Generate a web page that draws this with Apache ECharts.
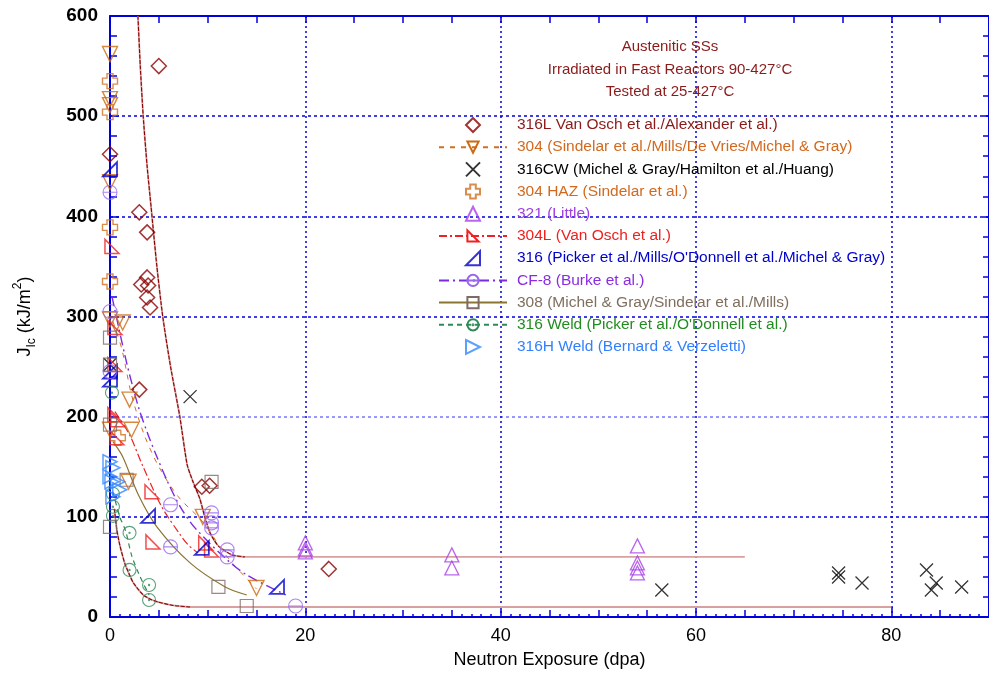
<!DOCTYPE html>
<html><head><meta charset="utf-8">
<script src="https://cdn.jsdelivr.net/npm/echarts@6/dist/echarts.min.js"></script>
<style>html,body{margin:0;padding:0;background:#fff}#c{width:989px;height:678px}</style>
</head><body><div id="c"></div>
<script>
// ---------- text ----------
const titleLines = ['Austenitic SSs', 'Irradiated in Fast Reactors 90-427°C', 'Tested at 25-427°C'];
const xTickLabels = [0, 20, 40, 60, 80];
const yTickLabels = [0, 100, 200, 300, 400, 500, 600];
const names = [
  '316L Van Osch et al./Alexander et al.)',
  '304 (Sindelar et al./Mills/De Vries/Michel & Gray)',
  '316CW (Michel & Gray/Hamilton et al./Huang)',
  '304 HAZ (Sindelar et al.)',
  '321 (Little)',
  '304L (Van Osch et al.)',
  "316 (Picker et al./Mills/O'Donnell et al./Michel & Gray)",
  'CF-8 (Burke et al.)',
  '308 (Michel & Gray/Sindelar et al./Mills)',
  "316 Weld (Picker et al./O'Donnell et al.)",
  '316H Weld (Bernard & Verzeletti)'
];
// ---------- data: [dpa, JIc] ----------
const d316L = [[5.0,550],[0,462],[3.0,404],[3.8,384],[3.2,332],[3.8,339],[3.9,331],[3.8,319],[4.1,309],[3.0,227],[9.4,130],[10.2,131],[22.4,48]];
const d304 = [[0,562],[0,517],[0,511],[0,434],[0,297],[0.6,292],[1.3,294],[0,187],[2.0,217],[2.2,187],[1.9,135],[9.5,100],[15.0,29]];
const d316CW = [[0,252],[8.2,220],[56.5,27],[74.6,44],[74.6,40],[77.0,34],[83.6,47],[84.6,34],[84.1,27],[87.2,30]];
const d304HAZ = [[0,535],[0,504],[0,389],[0,335],[0.8,179]];
const d321 = [[20,74],[20,68],[20,65],[35,62],[35,49],[54,71],[54,54],[54,49],[54,44]];
const d304L = [[0.2,370],[0.5,289],[0.5,252],[0.5,202],[0.8,197],[0.7,179],[4.3,125],[4.4,75],[9.8,74],[10.4,67]];
const d316 = [[0,447],[0,245],[0,237],[3.9,101],[9.4,69],[17.1,30]];
const dCF8 = [[0,424],[0,305],[0,245],[6.2,112],[6.2,70],[10.4,104],[10.4,94],[10.4,89],[12,67],[12,60],[19.0,11]];
const d308 = [[0,279],[0,252],[0,192],[0,90],[1.7,137],[10.4,135],[11.1,30],[14.0,11]];
const d316W = [[0.2,224],[0.3,123],[0.3,110],[0.3,101],[2.0,84],[2.0,47],[4.0,32],[4.0,17]];
const d316HW = [[0,155],[0.3,149],[0,140],[0.8,135],[0.2,135],[1.0,127],[0.3,120]];
// ---------- trend curves ----------
const fitUpper = [[2.86,600],[3.1,550],[3.4,500],[3.8,450],[4.2,410],[4.8,350],[5.4,300],[6.2,250],[7.15,200],[7.9,152],[8.5,135],[9.2,118],[9.7,100],[10.2,85],[10.7,76],[11.2,70],[12.5,62],[13.8,60],[65,60]];
const fitLower = [[0.45,108],[0.7,87],[1.0,72],[1.5,54],[2.0,42],[2.4,34],[3.4,22],[4.2,17.5],[4.9,15],[6.5,11.5],[8.2,10],[80,10]];
const fit304 = [[0.3,295],[1.2,268],[2.2,222],[3.5,182],[5,150],[7,120],[9.5,95],[12,60],[15,28]];
const fit304L = [[0.5,205],[2.0,182],[3.3,152],[5.3,110],[7.2,82],[8.0,72],[9.0,64]];
const fitCF8 = [[0.2,320],[1.7,254],[2.9,210],[3.9,182],[4.8,160],[5.9,135],[7.2,110],[8.7,89],[12,57],[14,42],[18,22]];
const fit308 = [[0.3,175],[1.3,160],[2.9,122],[4.8,90],[8.2,54],[11.8,30],[14,22]];
const fit316W = [[0.3,125],[1.0,100],[1.6,86],[2.2,62],[3,42],[4,22]];

const FONT = 'Liberation Sans, Arial, sans-serif';
const BLUE = '#0000DD';
const SYM = {
  diamond: 'path://M5,0L10,5L5,10L0,5Z',
  tri: 'path://M5,0L10,10L0,10Z',
  invTri: 'path://M0,0L10,0L5,10Z',
  x: 'path://M0,0L10,10M10,0L0,10',
  plus: 'path://M3,0L7,0L7,3L10,3L10,7L7,7L7,10L3,10L3,7L0,7L0,3L3,3Z',
  rtL: 'path://M0,0L0,10L10,10Z',
  rtR: 'path://M10,0L10,10L0,10Z',
  circLine: 'path://M0,5A5,5,0,1,1,10,5A5,5,0,1,1,0,5ZM0,5L10,5',
  circDot: 'path://M0,5A5,5,0,1,1,10,5A5,5,0,1,1,0,5ZM4.5,5A0.5,0.5,0,1,1,5.5,5A0.5,0.5,0,1,1,4.5,5Z',
  triR: 'path://M0,0L10,5L0,10Z',
  rect: 'path://M0,0L10,0L10,10L0,10Z'
};
const cols = {
  s316L:'#8B0000', s304:'#CC6A11', s316CW:'#000000', sHAZ:'#D07020', s321:'#A840E8',
  s304L:'#EE2222', s316:'#0000CC', sCF8:'#9966EE', s308:'#7F6A66', s316W:'#2E8B57', s316HW:'#3388FF'
};
const textCols = ['#8B1A1A','#D2691E','#000000','#D2691E','#A040E0','#EE2020','#0000CC','#8A2BE2','#7F6F5F','#228B22','#3380FF'];

function hollow(c, w) { return {color: 'rgba(255,255,255,0)', borderColor: c, borderWidth: w || 1.3}; }
function scatter(name, data, sym, size, c, w) {
  return {type:'scatter', name, data, symbol: sym, symbolSize: size, itemStyle: hollow(c, w), z: 5, emphasis:{disabled:true}};
}
function trend(name, data, sym, c, lc, type, w) {
  return {type:'line', name, data, symbol: sym, showSymbol:false, smooth:0.3,
    itemStyle: hollow(c, 1.3), lineStyle:{color: lc, type: type, width: w || 1.2}, z: 3, emphasis:{disabled:true}};
}

const series = [
  // fitted envelope curves (not in legend)
  {type:'line', name:'upperFit', data: fitUpper, showSymbol:false, symbol:'none', smooth:0.2, lineStyle:{color:'#D9A0A0', width:1.8}, z:2},
  {type:'line', name:'upperFitDark', data: fitUpper.slice(0, -1), showSymbol:false, symbol:'none', smooth:0.2, lineStyle:{color:'#8B0000', width:1.1, type:[4,1.5]}, z:2},
  {type:'line', name:'lowerFit', data: fitLower, showSymbol:false, symbol:'none', smooth:0.2, lineStyle:{color:'#D9A0A0', width:1.8}, z:2},
  {type:'line', name:'lowerFitDark', data: fitLower.slice(0, -1), showSymbol:false, symbol:'none', smooth:0.2, lineStyle:{color:'#8B0000', width:1.1, type:[4,1.5]}, z:2},
  // series trend lines (legend carriers)
  trend(names[1], fit304, SYM.invTri, cols.s304, '#D07020', [5,6], 1),
  trend(names[5], fit304L, SYM.rtL, cols.s304L, '#EE2222', [8,3,2,3]),
  trend(names[7], fitCF8, SYM.circLine, cols.sCF8, '#7B2BE2', [10,4,2,4], 1.4),
  trend(names[8], fit308, SYM.rect, cols.s308, '#8B7530', 'solid'),
  trend(names[9], fit316W, SYM.circDot, cols.s316W, '#2E8B57', [5,4]),
  // markers
  scatter(names[0], d316L, SYM.diamond, 15, cols.s316L, 1.5),
  scatter('p304', d304, SYM.invTri, 15, cols.s304, 1.4),
  scatter(names[2], d316CW, SYM.x, 13, cols.s316CW, 1.3),
  scatter(names[3], d304HAZ, SYM.plus, 15, cols.sHAZ, 1.4),
  scatter(names[4], d321, SYM.tri, 14, cols.s321, 1.3),
  scatter('p304L', d304L, SYM.rtL, 14, cols.s304L, 1.5),
  scatter(names[6], d316, SYM.rtR, 14, cols.s316, 1.8),
  scatter('pCF8', dCF8, SYM.circLine, 14, cols.sCF8, 1.1),
  scatter('p308', d308, SYM.rect, 13, cols.s308, 1.2),
  scatter('p316W', d316W, SYM.circDot, 13, cols.s316W, 1.1),
  scatter(names[10], d316HW, SYM.triR, 14, cols.s316HW, 1.5)
];

const chart = echarts.init(document.getElementById('c'), null, {renderer:'canvas'});
chart.setOption({
  animation: false,
  backgroundColor: '#fff',
  textStyle: {fontFamily: FONT},
  title: {
    text: titleLines.join('\n'), left: 665, top: 31, textAlign: 'center',
    textStyle: {fontFamily: FONT, fontSize: 15, fontWeight: 'normal', color: '#8B1A1A', lineHeight: 22.5}
  },
  legend: {
    orient: 'vertical', left: 438, top: 117, padding: 0, itemGap: 6.2, itemWidth: 68, itemHeight: 14,
    selectedMode: false,
    textStyle: {fontFamily: FONT, fontSize: 15.5, padding: [0,0,0,5]},
    data: names.map((n, i) => ({name: n, textStyle: {color: textCols[i]}}))
  },
  grid: {left: 110, top: 16, width: 879, height: 601, containLabel: false},
  xAxis: [
    {type:'value', min:0, max:90, interval:20, position:'bottom',
      name:'Neutron Exposure (dpa)', nameLocation:'middle', nameGap:34,
      nameTextStyle:{fontFamily:FONT, fontSize:18, color:'#000'},
      axisLine:{show:true, onZero:false, lineStyle:{color:BLUE, width:2}},
      axisTick:{inside:true, length:10, lineStyle:{color:BLUE, width:1.5}},
      minorTick:{show:true, splitNumber:4, length:7, lineStyle:{color:BLUE, width:1.5}},
      axisLabel:{margin:10, fontFamily:FONT, fontSize:18, color:'#000', showMaxLabel:false,
        formatter: v => xTickLabels.indexOf(v) >= 0 ? String(v) : ''},
      splitLine:{show:true, lineStyle:{color:BLUE, type:[2,3], width:1.5}}},
    {type:'value', min:0, max:90, interval:5, position:'top',
      axisLine:{show:true, onZero:false, lineStyle:{color:BLUE, width:2}},
      axisTick:{inside:true, length:7, lineStyle:{color:BLUE, width:1.5}},
      axisLabel:{show:false}, splitLine:{show:false}},
    {type:'value', min:0, max:90, interval:1, position:'bottom',
      axisLine:{show:false}, axisTick:{inside:true, length:3, lineStyle:{color:BLUE, width:1.5}},
      axisLabel:{show:false}, splitLine:{show:false}}
  ],
  yAxis: [
    {type:'value', min:0, max:600, interval:100, position:'left',
      name:'{a|J}{b|Ic}{a| (kJ/m}{c|2}{a|)}', nameLocation:'middle', nameGap:72,
      nameTextStyle:{color:'#000', rich:{
        a:{fontFamily:FONT, fontSize:18, color:'#000', lineHeight:26, verticalAlign:'middle'},
        b:{fontFamily:FONT, fontSize:12, color:'#000', lineHeight:12, verticalAlign:'bottom'},
        c:{fontFamily:FONT, fontSize:12, color:'#000', lineHeight:12, verticalAlign:'top'}}},
      axisLine:{show:true, onZero:false, lineStyle:{color:BLUE, width:2}},
      axisTick:{inside:true, length:9, lineStyle:{color:BLUE, width:1.5}},
      minorTick:{show:true, splitNumber:5, length:7, lineStyle:{color:BLUE, width:1.5}},
      axisLabel:{margin:12, fontFamily:FONT, fontSize:19, fontWeight:'bold', color:'#000',
        formatter: v => yTickLabels.indexOf(v) >= 0 ? String(v) : ''},
      splitLine:{show:true, lineStyle:{color:[BLUE,BLUE,'#7777FF',BLUE,BLUE,BLUE,BLUE], type:[3,3], width:1.5}}},
    {type:'value', min:0, max:600, interval:20, position:'right',
      axisLine:{show:true, onZero:false, lineStyle:{color:BLUE, width:2}},
      axisTick:{inside:true, length:6, lineStyle:{color:BLUE, width:1.5}},
      axisLabel:{show:false}, splitLine:{show:false}}
  ],
  series: series
});
</script>
</body></html>
